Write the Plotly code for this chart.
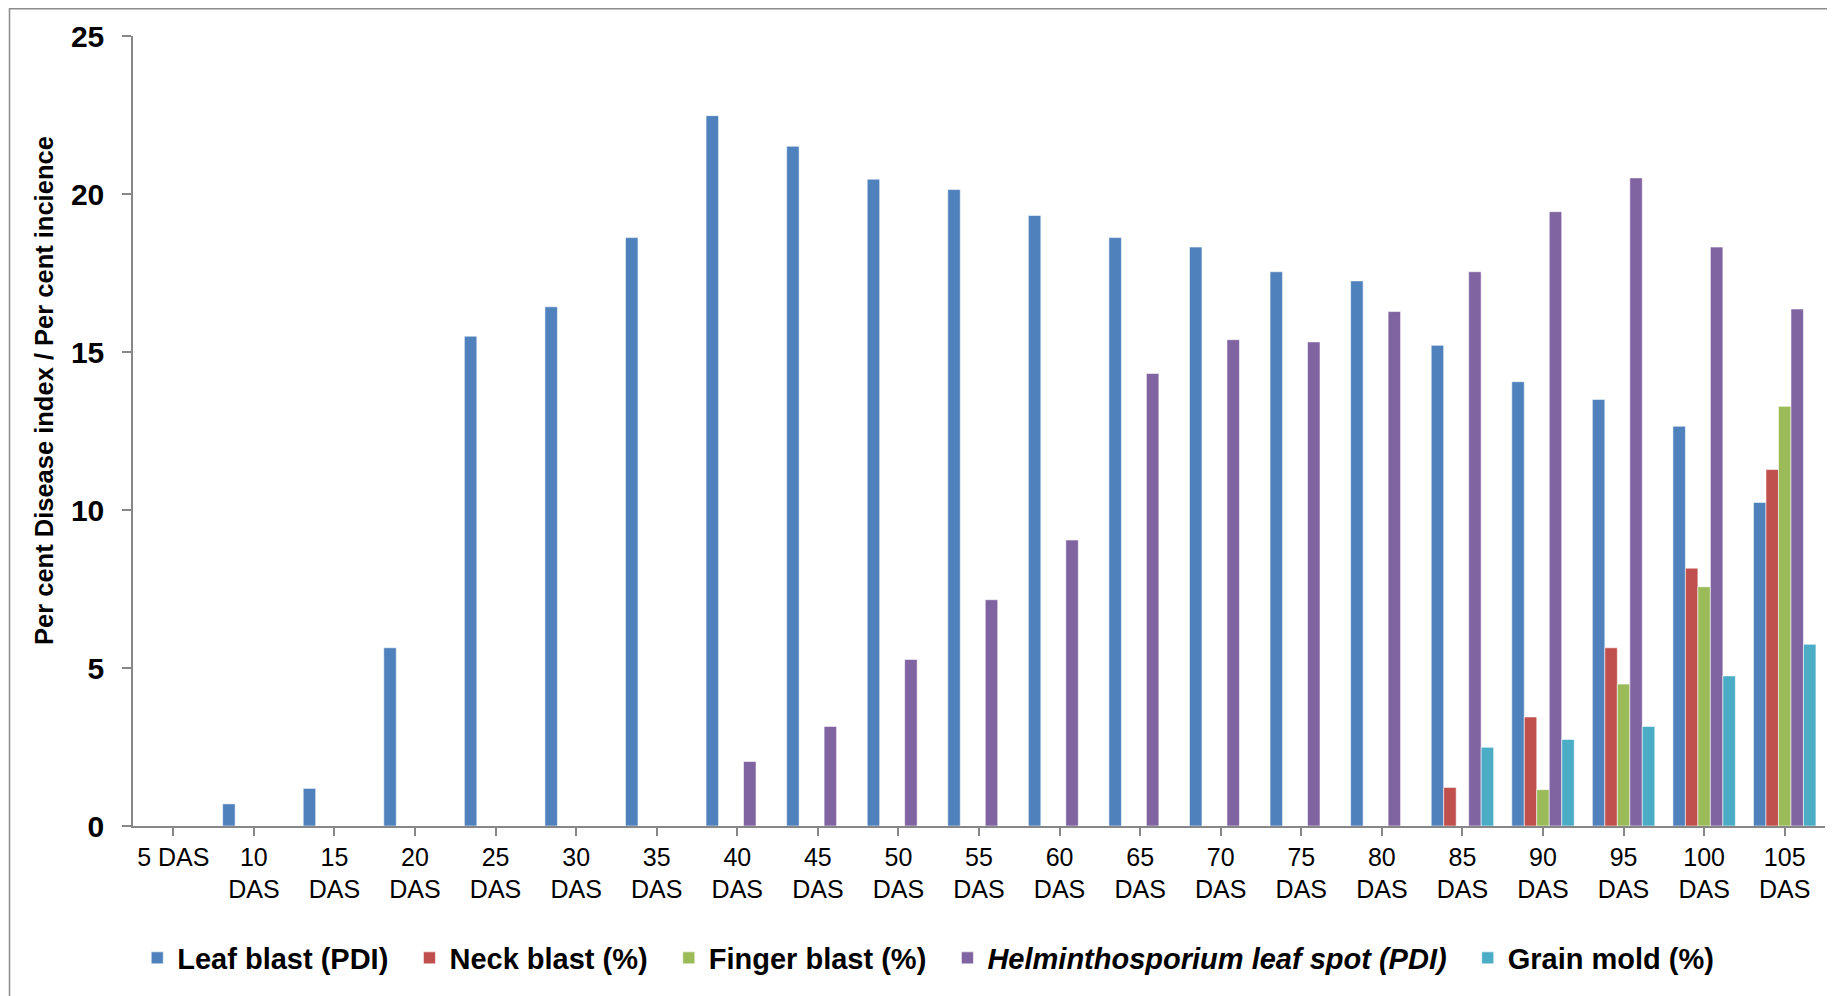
import plotly.graph_objects as go

categories = ["5 DAS", "10<br>DAS", "15<br>DAS", "20<br>DAS", "25<br>DAS", "30<br>DAS", "35<br>DAS",
              "40<br>DAS", "45<br>DAS", "50<br>DAS", "55<br>DAS", "60<br>DAS", "65<br>DAS", "70<br>DAS",
              "75<br>DAS", "80<br>DAS", "85<br>DAS", "90<br>DAS", "95<br>DAS", "100<br>DAS", "105<br>DAS"]

leaf_blast = [0, 0.70, 1.19, 5.64, 15.5, 16.43, 18.62, 22.48, 21.51, 20.47, 20.14, 19.32, 18.62, 18.32,
              17.54, 17.25, 15.21, 14.06, 13.5, 12.65, 10.24]
neck_blast = [0, 0, 0, 0, 0, 0, 0, 0, 0, 0, 0, 0, 0, 0, 0, 0, 1.22, 3.45, 5.64, 8.16, 11.28]
finger_blast = [0, 0, 0, 0, 0, 0, 0, 0, 0, 0, 0, 0, 0, 0, 0, 0, 0, 1.15, 4.49, 7.57, 13.28]
helmintho = [0, 0, 0, 0, 0, 0, 0, 2.04, 3.15, 5.27, 7.16, 9.05, 14.32, 15.39, 15.32, 16.28, 17.54,
             19.44, 20.51, 18.32, 16.36]
grain_mold = [0, 0, 0, 0, 0, 0, 0, 0, 0, 0, 0, 0, 0, 0, 0, 0, 2.49, 2.74, 3.15, 4.75, 5.75]

pad = "\u00a0\u00a0"
series = [
    ("Leaf blast (PDI)" + pad, leaf_blast, "#4F81BD"),
    ("Neck blast (%)" + pad, neck_blast, "#C0504D"),
    ("Finger blast (%)" + pad, finger_blast, "#9BBB59"),
    ("<i>Helminthosporium leaf spot (PDI)</i>" + pad, helmintho, "#8064A2"),
    ("Grain mold (%)", grain_mold, "#4BACC6"),
]

x_idx = list(range(len(categories)))

fig = go.Figure()
for name, vals, col in series:
    fig.add_trace(go.Bar(
        x=x_idx, y=vals, name=name,
        marker=dict(color=col, line=dict(color="rgba(255,255,255,0.7)", width=0.8)),
    ))

W, H = 1835, 996
L, T, PW, PH = 125, 28, 1692, 790
axis_col = "#878787"
fig.update_layout(
    width=W, height=H,
    paper_bgcolor="white", plot_bgcolor="white",
    barmode="group", bargap=0.225, bargroupgap=0,
    margin=dict(l=L, r=W - L - PW, t=T, b=H - T - PH),
    font=dict(family="Liberation Sans, Arial, sans-serif", color="black"),
    showlegend=True,
    legend=dict(
        orientation="h", x=0.47, xanchor="center", y=(T + PH - 950) / PH, yanchor="middle",
        font=dict(size=29, weight="bold"), itemwidth=30, tracegroupgap=0,
    ),
    xaxis=dict(
        range=[-0.5, 20.5], tickmode="array", tickvals=x_idx, ticktext=categories,
        showline=True, linecolor=axis_col, linewidth=1.5,
        ticks="outside", tickson="boundaries", ticklen=8, tickcolor=axis_col, tickwidth=1.5,
        tickfont=dict(size=25, color="black"), showgrid=False, zeroline=False,
    ),
    yaxis=dict(
        range=[0, 25], dtick=5, tick0=0,
        showline=True, linecolor=axis_col, linewidth=1.5,
        ticks="outside", ticklen=9, tickcolor=axis_col, tickwidth=1.5,
        tickfont=dict(size=30, weight="bold", color="black"), ticklabelstandoff=12,
        showgrid=False, zeroline=False,
    ),
)

fig.add_annotation(
    text="Per cent Disease index / Per cent incience", textangle=-90,
    xref="paper", yref="paper", x=(36 - L) / PW, y=(T + PH - 383) / PH,
    xanchor="center", yanchor="middle", showarrow=False,
    font=dict(size=25.5, weight="bold", color="black"),
)

fig.add_shape(
    type="rect", xref="paper", yref="paper",
    x0=(1.5 - L) / PW, x1=(W + 20 - L) / PW,
    y0=(T + PH - (H + 20)) / PH, y1=(T + PH - 0.75) / PH,
    line=dict(color="#8c8c8c", width=1.5), fillcolor="rgba(0,0,0,0)", layer="below",
)

fig.write_html("out.html")
